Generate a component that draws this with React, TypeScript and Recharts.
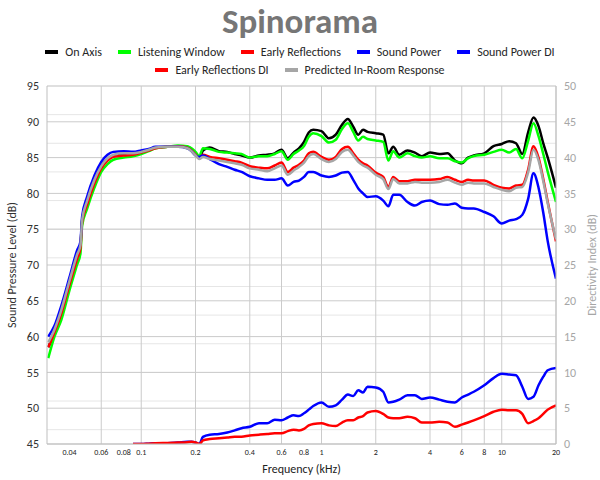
import { LineChart, Line, XAxis, YAxis, CartesianGrid, Label } from "recharts";

const FONT = "Carlito, Lato, 'Open Sans', sans-serif";

// frequency points in kHz
const freqs = [
  0.0305, 0.033, 0.036, 0.04, 0.044, 0.046, 0.047, 0.05, 0.055, 0.06,
  0.065, 0.07, 0.08, 0.09, 0.1, 0.11, 0.12, 0.14, 0.16, 0.18,
  0.19, 0.2, 0.21, 0.22, 0.24, 0.27, 0.3, 0.33, 0.36, 0.4,
  0.45, 0.5, 0.55, 0.6, 0.65, 0.7, 0.75, 0.8, 0.85, 0.9,
  1.0, 1.1, 1.2, 1.3, 1.4, 1.5, 1.6, 1.7, 1.8, 2.0,
  2.2, 2.35, 2.5, 2.7, 3.0, 3.3, 3.6, 4.0, 4.5, 5.0,
  5.5, 6.0, 6.5, 7.0, 8.0, 9.0, 10, 11, 12, 13,
  14, 15, 16, 17, 18, 20,
];

const onAxis = [
  58.5, 60.5, 63.2, 67.5, 71.3, 72.8, 76.3, 78.8, 81.8, 83.8,
  84.8, 85.2, 85.4, 85.5, 85.8, 86.1, 86.4, 86.5, 86.6, 86.5,
  86.2, 85.6, 84.9, 86.0, 86.4, 85.9, 85.8, 85.5, 85.3, 85.0,
  85.3, 85.4, 85.6, 86.1, 84.9, 85.7, 86.3, 87.2, 88.5, 88.9,
  88.7, 87.7, 88.2, 89.6, 90.4, 89.3, 88.2, 88.9, 88.6, 88.4,
  88.2, 85.6, 86.5, 85.4, 86.0, 85.7, 85.2, 85.7, 85.5, 85.6,
  84.6, 84.2, 85.0, 85.3, 85.6, 86.6, 86.9, 87.3, 87.0, 85.5,
  88.5, 90.6, 89.4, 87.0, 85.0, 80.8,
];

const listeningWindow = [
  57.0, 60.0, 62.3, 66.5, 70.0, 71.6, 75.5, 77.8, 80.8, 83.0,
  84.1, 84.7, 85.0, 85.2, 85.5, 85.9, 86.3, 86.5, 86.7, 86.6,
  86.3, 85.8, 85.2, 86.3, 86.2, 85.8, 85.7, 85.6, 85.5, 85.0,
  85.2, 85.2, 85.5, 85.9, 84.7, 85.5, 86.0, 86.6, 87.9, 88.4,
  88.0, 87.1, 87.5, 89.0, 89.8, 88.6, 87.4, 87.9, 87.6, 87.4,
  87.2, 84.6, 85.9, 85.0, 85.6, 85.2, 85.0, 85.2, 84.9, 84.9,
  84.5, 84.3, 84.9, 85.2, 85.4, 85.8, 86.1, 85.7, 86.2, 84.9,
  87.3, 89.8, 88.0, 85.5, 83.0, 78.8,
];

const earlyReflections = [
  58.5, 60.6, 63.2, 67.3, 70.8, 72.4, 76.0, 78.4, 81.4, 83.5,
  84.6, 85.1, 85.3, 85.4, 85.7, 86.0, 86.3, 86.5, 86.6, 86.4,
  86.0, 85.4, 84.9, 85.4, 85.1, 84.9, 84.7, 84.5, 84.3, 83.8,
  83.6, 83.5, 83.9, 84.3, 83.0, 83.6, 84.0, 84.6, 85.6, 85.8,
  85.1, 84.7, 85.1, 86.2, 86.5, 85.6, 84.7, 84.2, 83.9, 82.9,
  82.3, 80.9, 82.3, 81.7, 81.7, 81.9, 81.9, 81.9, 82.0, 82.3,
  81.9, 81.6, 81.9, 81.8, 81.8, 81.2, 80.8, 80.7, 81.1, 81.2,
  83.3, 86.6, 85.0, 82.0, 78.8, 73.3,
];

const soundPower = [
  60.0, 61.5, 64.3, 68.3, 72.0, 73.3, 76.8, 79.5, 82.5, 84.4,
  85.4, 85.8, 85.9, 85.8, 86.0, 86.2, 86.5, 86.5, 86.5, 86.3,
  85.9, 85.3, 85.1, 85.3, 84.8, 84.1, 83.7, 83.3, 83.0, 82.4,
  82.1, 81.9, 81.9, 82.1, 81.1, 81.6, 81.8, 82.3, 83.0, 83.0,
  82.5, 82.3, 82.5, 82.9, 83.0, 81.9, 80.7, 80.0, 79.5, 79.6,
  79.0, 78.2, 79.8, 79.8, 78.8, 78.3, 78.8, 79.0, 78.5, 78.4,
  78.6, 78.0, 77.9, 77.9, 77.4, 76.8, 75.8, 76.2, 76.4, 77.0,
  79.2, 82.8, 80.8, 77.3, 73.3, 68.1,
];

const predictedInRoom = [
  59.2, 61.0, 63.7, 67.8, 71.4, 72.8, 76.3, 78.9, 81.9, 83.8,
  84.9, 85.4, 85.6, 85.6, 85.8, 86.1, 86.4, 86.5, 86.5, 86.3,
  85.9, 85.3, 84.8, 85.1, 84.8, 84.6, 84.4, 84.2, 84.0, 83.5,
  83.3, 83.1, 83.5, 83.9, 82.6, 83.2, 83.7, 84.3, 85.2, 85.5,
  84.8, 84.4, 84.8, 85.8, 86.1, 85.3, 84.4, 83.9, 83.6, 82.6,
  82.0, 80.6, 82.0, 81.4, 81.4, 81.6, 81.5, 81.5, 81.6, 81.9,
  81.5, 81.2, 81.5, 81.4, 81.4, 80.9, 80.5, 80.3, 80.8, 80.9,
  82.9, 86.1, 84.6, 81.7, 78.6, 73.6,
];

// directivity index, right axis
const soundPowerDI = [
  null, null, null, null, null, null, null, null, null, null,
  null, null, null, 0.0, 0.0, 0.05, 0.1, 0.1, 0.2, 0.3,
  0.3, 0.2, 0.0, 1.0, 1.3, 1.4, 1.6, 1.9, 2.2, 2.4,
  2.9, 2.9, 3.4, 3.3, 3.7, 4.0, 3.9, 4.3, 4.8, 5.3,
  5.8, 5.2, 5.4, 6.2, 6.9, 6.7, 7.5, 7.2, 8.0, 7.9,
  7.3, 5.8, 5.9, 6.2, 6.8, 6.8, 6.3, 6.5, 6.2, 5.9,
  5.8, 6.5, 6.9, 7.3, 8.2, 9.2, 9.8, 9.7, 9.6, 8.0,
  6.3, 6.6, 8.2, 9.4, 10.3, 10.6,
];

const earlyReflectionsDI = [
  null, null, null, null, null, null, null, null, null, null,
  null, null, null, 0.0, 0.0, 0.05, 0.1, 0.15, 0.2, 0.25,
  0.3, 0.2, 0.0, 0.5, 0.7, 0.8, 0.9, 1.0, 1.0, 1.2,
  1.3, 1.4, 1.5, 1.5, 1.8, 2.0, 1.9, 2.1, 2.6, 2.8,
  2.9, 2.6, 2.5, 3.0, 3.3, 3.3, 3.7, 3.9, 4.4, 4.6,
  4.2, 3.7, 3.6, 3.6, 3.8, 3.6, 3.0, 3.0, 3.1, 3.0,
  2.4, 2.7, 3.0, 3.3, 3.9, 4.5, 4.8, 4.7, 4.7, 4.2,
  2.9, 3.2, 3.6, 4.2, 4.8, 5.4,
];

const xTicks = [0.04, 0.06, 0.08, 0.1, 0.2, 0.4, 0.6, 0.8, 1, 2, 4, 6, 8, 10, 20];
const splTicks = [45, 50, 55, 60, 65, 70, 75, 80, 85, 90, 95];
const diTicks = [0, 5, 10, 15, 20, 25, 30, 35, 40, 45, 50];
const minorLines = Array.from({ length: 51 }, (_, i) => 45 + i);

const series = [
  { key: "onAxis", name: "On Axis", color: "#000000", axis: "left", values: onAxis },
  { key: "lw", name: "Listening Window", color: "#00ff00", axis: "left", values: listeningWindow },
  { key: "er", name: "Early Reflections", color: "#ff0000", axis: "left", values: earlyReflections },
  { key: "sp", name: "Sound Power", color: "#0000ff", axis: "left", values: soundPower },
  { key: "spdi", name: "Sound Power DI", color: "#0000ff", axis: "right", values: soundPowerDI },
  { key: "erdi", name: "Early Reflections DI", color: "#ff0000", axis: "right", values: earlyReflectionsDI },
  { key: "pir", name: "Predicted In-Room Response", color: "#a6a6a6", axis: "left", values: predictedInRoom },
];

const data = freqs.map((f, i) => {
  const row: Record<string, number | null> = { f };
  series.forEach((s) => {
    row[s.key] = s.values[i];
  });
  return row;
});

function LegendRow({ items }: { items: typeof series }) {
  return (
    <div style={{ display: "flex", justifyContent: "center", gap: 16, height: 18, alignItems: "center" }}>
      {items.map((s) => (
        <div key={s.key} style={{ display: "flex", alignItems: "center" }}>
          <span style={{ display: "inline-block", width: 13, height: 4, background: s.color, marginRight: 7 }} />
          <span style={{ fontSize: 12, color: "#262626" }}>{s.name}</span>
        </div>
      ))}
    </div>
  );
}

export default function App() {
  return (
    <div
      style={{
        position: "absolute",
        left: 0,
        top: 0,
        width: 600,
        height: 480,
        background: "#fff",
        fontFamily: FONT,
      }}
    >
      <div
        style={{
          position: "absolute",
          top: 0,
          width: 600,
          textAlign: "center",
          fontSize: 35,
          lineHeight: "42px",
          fontWeight: "bold",
          color: "#767676",
        }}
      >
        Spinorama
      </div>
      <div style={{ position: "absolute", top: 43, width: 600 }}>
        <LegendRow items={series.slice(0, 5)} />
        <LegendRow items={series.slice(5)} />
      </div>

      <LineChart
        width={600}
        height={480}
        data={data}
        margin={{ top: 86, right: 4, bottom: 6, left: 7 }}
        style={{ position: "absolute", left: 0, top: 0 }}
      >
        <CartesianGrid yAxisId="left" horizontalValues={minorLines} vertical={false} stroke="#e6e6e6" />
        <CartesianGrid yAxisId="left" horizontalValues={splTicks} verticalValues={xTicks} stroke="#cbcbcb" />
        <XAxis
          dataKey="f"
          type="number"
          scale="log"
          domain={[0.03, 20]}
          ticks={xTicks}
          allowDataOverflow
          height={30}
          tickLine={false}
          tickSize={4}
          tickMargin={1}
          axisLine={{ stroke: "#bfbfbf" }}
          tick={{ fontSize: 8, fill: "#222", fontFamily: FONT }}
          tickFormatter={(v: number) => String(v)}
        >
          <Label value="Frequency (kHz)" position="insideBottom" offset={1} style={{ fontSize: 12, fill: "#222", fontFamily: FONT }} />
        </XAxis>
        <YAxis
          yAxisId="left"
          domain={[45, 95]}
          ticks={splTicks}
          allowDataOverflow
          width={40}
          tickLine={false}
          axisLine={{ stroke: "#bfbfbf" }}
          tick={{ fontSize: 12, fill: "#333", fontFamily: FONT }}
        >
          <Label value="Sound Pressure Level (dB)" angle={-90} position="center" dx={-15} style={{ fontSize: 12, fill: "#333", fontFamily: FONT, textAnchor: "middle" }} />
        </YAxis>
        <YAxis
          yAxisId="right"
          orientation="right"
          domain={[0, 50]}
          ticks={diTicks}
          allowDataOverflow
          width={40}
          tickLine={false}
          axisLine={{ stroke: "#bfbfbf" }}
          tick={{ fontSize: 12, fill: "#a6a6a6", fontFamily: FONT }}
        >
          <Label value="Directivity Index (dB)" angle={-90} position="center" dx={16} style={{ fontSize: 12, fill: "#a6a6a6", fontFamily: FONT, textAnchor: "middle" }} />
        </YAxis>
        {series.map((s) => (
          <Line
            key={s.key}
            yAxisId={s.axis}
            dataKey={s.key}
            name={s.name}
            type="monotone"
            stroke={s.color}
            strokeWidth={2.5}
            dot={false}
            isAnimationActive={false}
          />
        ))}
      </LineChart>
    </div>
  );
}
